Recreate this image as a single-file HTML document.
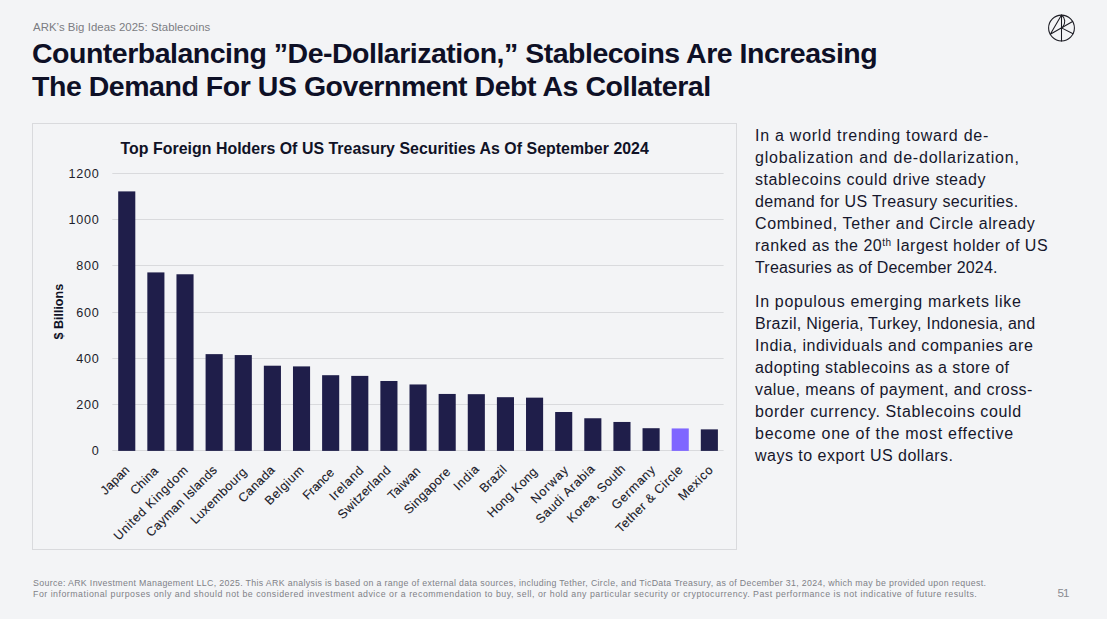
<!DOCTYPE html>
<html><head><meta charset="utf-8">
<style>
html,body{margin:0;padding:0;}
body{width:1107px;height:619px;overflow:hidden;background:#f3f4f6;position:relative;font-family:"Liberation Sans",Arial,sans-serif;color:#14152b;}
.abs{position:absolute;white-space:nowrap;}
sup{font-size:10px;vertical-align:5px;line-height:0;}
#box{left:32px;top:123px;width:703px;height:425px;border:1px solid #d9dadd;}
svg text{font-family:"Liberation Sans",Arial,sans-serif;}
.yl{font-size:12.6px;fill:#1d1d2b;letter-spacing:0.75px;}
.xl{font-size:12.5px;fill:#1a1a28;stroke:#1a1a28;stroke-width:0.12px;}
.ct{font-size:15.9px;font-weight:bold;fill:#101226;}
.yt{font-size:12.5px;font-weight:bold;fill:#101226;}
</style></head><body>
<svg class="abs" style="left:1046px;top:13px" width="31" height="31" viewBox="0 0 31 31">
<g fill="none" stroke="#1a1a22" stroke-width="1.05" stroke-linecap="round" stroke-linejoin="round">
<circle cx="15.5" cy="15" r="12.9"/>
<path d="M15.5 2.1 V27.9 M15.5 2.1 L4.3 21.3 L26.6 8.5 M15.5 14.9 L27.1 20.8"/>
<path d="M15.7 2.2 C19.6 5 19.6 10.5 16.6 14.3"/>
</g></svg>
<div class="abs" id="box"></div>
<svg class="abs" style="left:0;top:0" width="1107" height="619">
<text x="120.5" y="154.0" class="ct" style="letter-spacing:0.031px">Top Foreign Holders Of US Treasury Securities As Of September 2024</text>
<text x="0" y="0" class="yt" text-anchor="middle" transform="translate(62.5 311.7) rotate(-90)">$ Billions</text>
<line x1="112.3" y1="450.50" x2="723.6" y2="450.50" stroke="#d9dadd" stroke-width="1"/>
<text x="99.5" y="455.40" text-anchor="end" class="yl">0</text>
<line x1="112.3" y1="404.50" x2="723.6" y2="404.50" stroke="#d9dadd" stroke-width="1"/>
<text x="99.5" y="409.10" text-anchor="end" class="yl">200</text>
<line x1="112.3" y1="358.50" x2="723.6" y2="358.50" stroke="#d9dadd" stroke-width="1"/>
<text x="99.5" y="362.80" text-anchor="end" class="yl">400</text>
<line x1="112.3" y1="312.50" x2="723.6" y2="312.50" stroke="#d9dadd" stroke-width="1"/>
<text x="99.5" y="316.50" text-anchor="end" class="yl">600</text>
<line x1="112.3" y1="265.50" x2="723.6" y2="265.50" stroke="#d9dadd" stroke-width="1"/>
<text x="99.5" y="270.20" text-anchor="end" class="yl">800</text>
<line x1="112.3" y1="219.50" x2="723.6" y2="219.50" stroke="#d9dadd" stroke-width="1"/>
<text x="99.5" y="223.90" text-anchor="end" class="yl">1000</text>
<line x1="112.3" y1="173.50" x2="723.6" y2="173.50" stroke="#d9dadd" stroke-width="1"/>
<text x="99.5" y="177.60" text-anchor="end" class="yl">1200</text>
<rect x="118.20" y="191.39" width="17.10" height="259.51" fill="#1f1e4a"/>
<text x="130.40" y="470.60" text-anchor="end" class="xl" style="letter-spacing:0.212px" transform="rotate(-45 130.40 470.60)">Japan</text>
<rect x="147.33" y="272.41" width="17.10" height="178.49" fill="#1f1e4a"/>
<text x="159.20" y="471.60" text-anchor="end" class="xl" style="letter-spacing:0.212px" transform="rotate(-45 159.20 471.60)">China</text>
<rect x="176.46" y="274.27" width="17.10" height="176.63" fill="#1f1e4a"/>
<text x="189.10" y="470.60" text-anchor="end" class="xl" style="letter-spacing:0.751px" transform="rotate(-45 189.10 470.60)">United Kingdom</text>
<rect x="205.59" y="354.13" width="17.10" height="96.77" fill="#1f1e4a"/>
<text x="218.00" y="470.60" text-anchor="end" class="xl" style="letter-spacing:0.364px" transform="rotate(-45 218.00 470.60)">Cayman Islands</text>
<rect x="234.72" y="355.06" width="17.10" height="95.84" fill="#1f1e4a"/>
<text x="247.80" y="472.60" text-anchor="end" class="xl" style="letter-spacing:0.440px" transform="rotate(-45 247.80 472.60)">Luxembourg</text>
<rect x="263.85" y="365.71" width="17.10" height="85.19" fill="#1f1e4a"/>
<text x="275.80" y="470.60" text-anchor="end" class="xl" style="letter-spacing:0.382px" transform="rotate(-45 275.80 470.60)">Canada</text>
<rect x="292.98" y="366.40" width="17.10" height="84.50" fill="#1f1e4a"/>
<text x="305.00" y="470.60" text-anchor="end" class="xl" style="letter-spacing:0.648px" transform="rotate(-45 305.00 470.60)">Belgium</text>
<rect x="322.11" y="375.20" width="17.10" height="75.70" fill="#1f1e4a"/>
<text x="334.80" y="473.50" text-anchor="end" class="xl" style="letter-spacing:-0.113px" transform="rotate(-45 334.80 473.50)">France</text>
<rect x="351.24" y="375.89" width="17.10" height="75.01" fill="#1f1e4a"/>
<text x="364.60" y="470.80" text-anchor="end" class="xl" style="letter-spacing:0.672px" transform="rotate(-45 364.60 470.80)">Ireland</text>
<rect x="380.37" y="380.99" width="17.10" height="69.91" fill="#1f1e4a"/>
<text x="391.70" y="470.80" text-anchor="end" class="xl" style="letter-spacing:0.403px" transform="rotate(-45 391.70 470.80)">Switzerland</text>
<rect x="409.50" y="384.46" width="17.10" height="66.44" fill="#1f1e4a"/>
<text x="421.50" y="471.60" text-anchor="end" class="xl" style="letter-spacing:0.311px" transform="rotate(-45 421.50 471.60)">Taiwan</text>
<rect x="438.63" y="393.95" width="17.10" height="56.95" fill="#1f1e4a"/>
<text x="451.40" y="472.50" text-anchor="end" class="xl" style="letter-spacing:0.309px" transform="rotate(-45 451.40 472.50)">Singapore</text>
<rect x="467.76" y="394.18" width="17.10" height="56.72" fill="#1f1e4a"/>
<text x="480.30" y="469.60" text-anchor="end" class="xl" style="letter-spacing:0.707px" transform="rotate(-45 480.30 469.60)">India</text>
<rect x="496.89" y="397.19" width="17.10" height="53.71" fill="#1f1e4a"/>
<text x="507.60" y="470.20" text-anchor="end" class="xl" style="letter-spacing:0.240px" transform="rotate(-45 507.60 470.20)">Brazil</text>
<rect x="526.02" y="397.65" width="17.10" height="53.24" fill="#1f1e4a"/>
<text x="538.20" y="472.50" text-anchor="end" class="xl" style="letter-spacing:0.256px" transform="rotate(-45 538.20 472.50)">Hong Kong</text>
<rect x="555.15" y="412.01" width="17.10" height="38.89" fill="#1f1e4a"/>
<text x="569.60" y="470.30" text-anchor="end" class="xl" style="letter-spacing:0.933px" transform="rotate(-45 569.60 470.30)">Norway</text>
<rect x="584.28" y="418.26" width="17.10" height="32.64" fill="#1f1e4a"/>
<text x="595.80" y="469.30" text-anchor="end" class="xl" style="letter-spacing:0.579px" transform="rotate(-45 595.80 469.30)">Saudi Arabia</text>
<rect x="613.41" y="421.96" width="17.10" height="28.94" fill="#1f1e4a"/>
<text x="626.20" y="469.30" text-anchor="end" class="xl" style="letter-spacing:0.302px" transform="rotate(-45 626.20 469.30)">Korea, South</text>
<rect x="642.54" y="428.21" width="17.10" height="22.69" fill="#1f1e4a"/>
<text x="656.50" y="470.30" text-anchor="end" class="xl" style="letter-spacing:0.731px" transform="rotate(-45 656.50 470.30)">Germany</text>
<rect x="671.67" y="428.44" width="17.10" height="22.46" fill="#7f66ff"/>
<text x="683.80" y="470.40" text-anchor="end" class="xl" style="letter-spacing:0.490px" transform="rotate(-45 683.80 470.40)">Tether &amp; Circle</text>
<rect x="700.80" y="429.37" width="17.10" height="21.53" fill="#1f1e4a"/>
<text x="714.10" y="470.40" text-anchor="end" class="xl" style="letter-spacing:0.693px" transform="rotate(-45 714.10 470.40)">Mexico</text>
</svg>
<div class="abs" id="sub" style="left:33px;top:20.61px;font-size:11.4px;line-height:13.68px;font-weight:normal;color:#7b7c82;letter-spacing:0.044px">ARK’s Big Ideas 2025: Stablecoins</div>
<div class="abs" id="t1" style="left:32px;top:35.62px;font-size:28.5px;line-height:34.2px;font-weight:bold;color:#0e1026;letter-spacing:-0.494px">Counterbalancing ”De-Dollarization,” Stablecoins Are Increasing</div>
<div class="abs" id="t2" style="left:32px;top:69.02px;font-size:28.5px;line-height:34.2px;font-weight:bold;color:#0e1026;letter-spacing:-0.465px">The Demand For US Government Debt As Collateral</div>
<div class="abs" id="p1_0" style="left:755px;top:125.66px;font-size:16px;line-height:19.2px;font-weight:normal;color:#16172c;letter-spacing:0.745px">In a world trending toward de-</div>
<div class="abs" id="p1_1" style="left:755px;top:147.66px;font-size:16px;line-height:19.2px;font-weight:normal;color:#16172c;letter-spacing:0.776px">globalization and de-dollarization,</div>
<div class="abs" id="p1_2" style="left:755px;top:169.66px;font-size:16px;line-height:19.2px;font-weight:normal;color:#16172c;letter-spacing:0.586px">stablecoins could drive steady</div>
<div class="abs" id="p1_3" style="left:755px;top:191.66px;font-size:16px;line-height:19.2px;font-weight:normal;color:#16172c;letter-spacing:0.376px">demand for US Treasury securities.</div>
<div class="abs" id="p1_4" style="left:755px;top:213.66px;font-size:16px;line-height:19.2px;font-weight:normal;color:#16172c;letter-spacing:0.600px">Combined, Tether and Circle already</div>
<div class="abs" id="p1_5" style="left:755px;top:235.66px;font-size:16px;line-height:19.2px;font-weight:normal;color:#16172c;letter-spacing:0.505px">ranked as the 20<sup>th</sup> largest holder of US</div>
<div class="abs" id="p1_6" style="left:755px;top:257.66px;font-size:16px;line-height:19.2px;font-weight:normal;color:#16172c;letter-spacing:0.187px">Treasuries as of December 2024.</div>
<div class="abs" id="p2_0" style="left:755px;top:292.06px;font-size:16px;line-height:19.2px;font-weight:normal;color:#16172c;letter-spacing:0.694px">In populous emerging markets like</div>
<div class="abs" id="p2_1" style="left:755px;top:314.06px;font-size:16px;line-height:19.2px;font-weight:normal;color:#16172c;letter-spacing:0.289px">Brazil, Nigeria, Turkey, Indonesia, and</div>
<div class="abs" id="p2_2" style="left:755px;top:336.06px;font-size:16px;line-height:19.2px;font-weight:normal;color:#16172c;letter-spacing:0.543px">India, individuals and companies are</div>
<div class="abs" id="p2_3" style="left:755px;top:358.06px;font-size:16px;line-height:19.2px;font-weight:normal;color:#16172c;letter-spacing:0.473px">adopting stablecoins as a store of</div>
<div class="abs" id="p2_4" style="left:755px;top:380.06px;font-size:16px;line-height:19.2px;font-weight:normal;color:#16172c;letter-spacing:0.441px">value, means of payment, and cross-</div>
<div class="abs" id="p2_5" style="left:755px;top:402.06px;font-size:16px;line-height:19.2px;font-weight:normal;color:#16172c;letter-spacing:0.636px">border currency. Stablecoins could</div>
<div class="abs" id="p2_6" style="left:755px;top:424.06px;font-size:16px;line-height:19.2px;font-weight:normal;color:#16172c;letter-spacing:0.735px">become one of the most effective</div>
<div class="abs" id="p2_7" style="left:755px;top:446.06px;font-size:16px;line-height:19.2px;font-weight:normal;color:#16172c;letter-spacing:0.488px">ways to export US dollars.</div>
<div class="abs" id="f0" style="left:33px;top:578.17px;font-size:8.8px;line-height:10.56px;font-weight:normal;color:#808187;letter-spacing:0.337px">Source: ARK Investment Management LLC, 2025. This ARK analysis is based on a range of external data sources, including Tether, Circle, and TicData Treasury, as of December 31, 2024, which may be provided upon request.</div>
<div class="abs" id="f1" style="left:33px;top:588.57px;font-size:8.8px;line-height:10.56px;font-weight:normal;color:#808187;letter-spacing:0.502px">For informational purposes only and should not be considered investment advice or a recommendation to buy, sell, or hold any particular security or cryptocurrency. Past performance is not indicative of future results.</div>
<div class="abs" id="pg" style="left:1057.5px;top:585.52px;font-size:11.6px;line-height:13.92px;font-weight:normal;color:#8a8b90;letter-spacing:-0.900px">51</div>
</body></html>
